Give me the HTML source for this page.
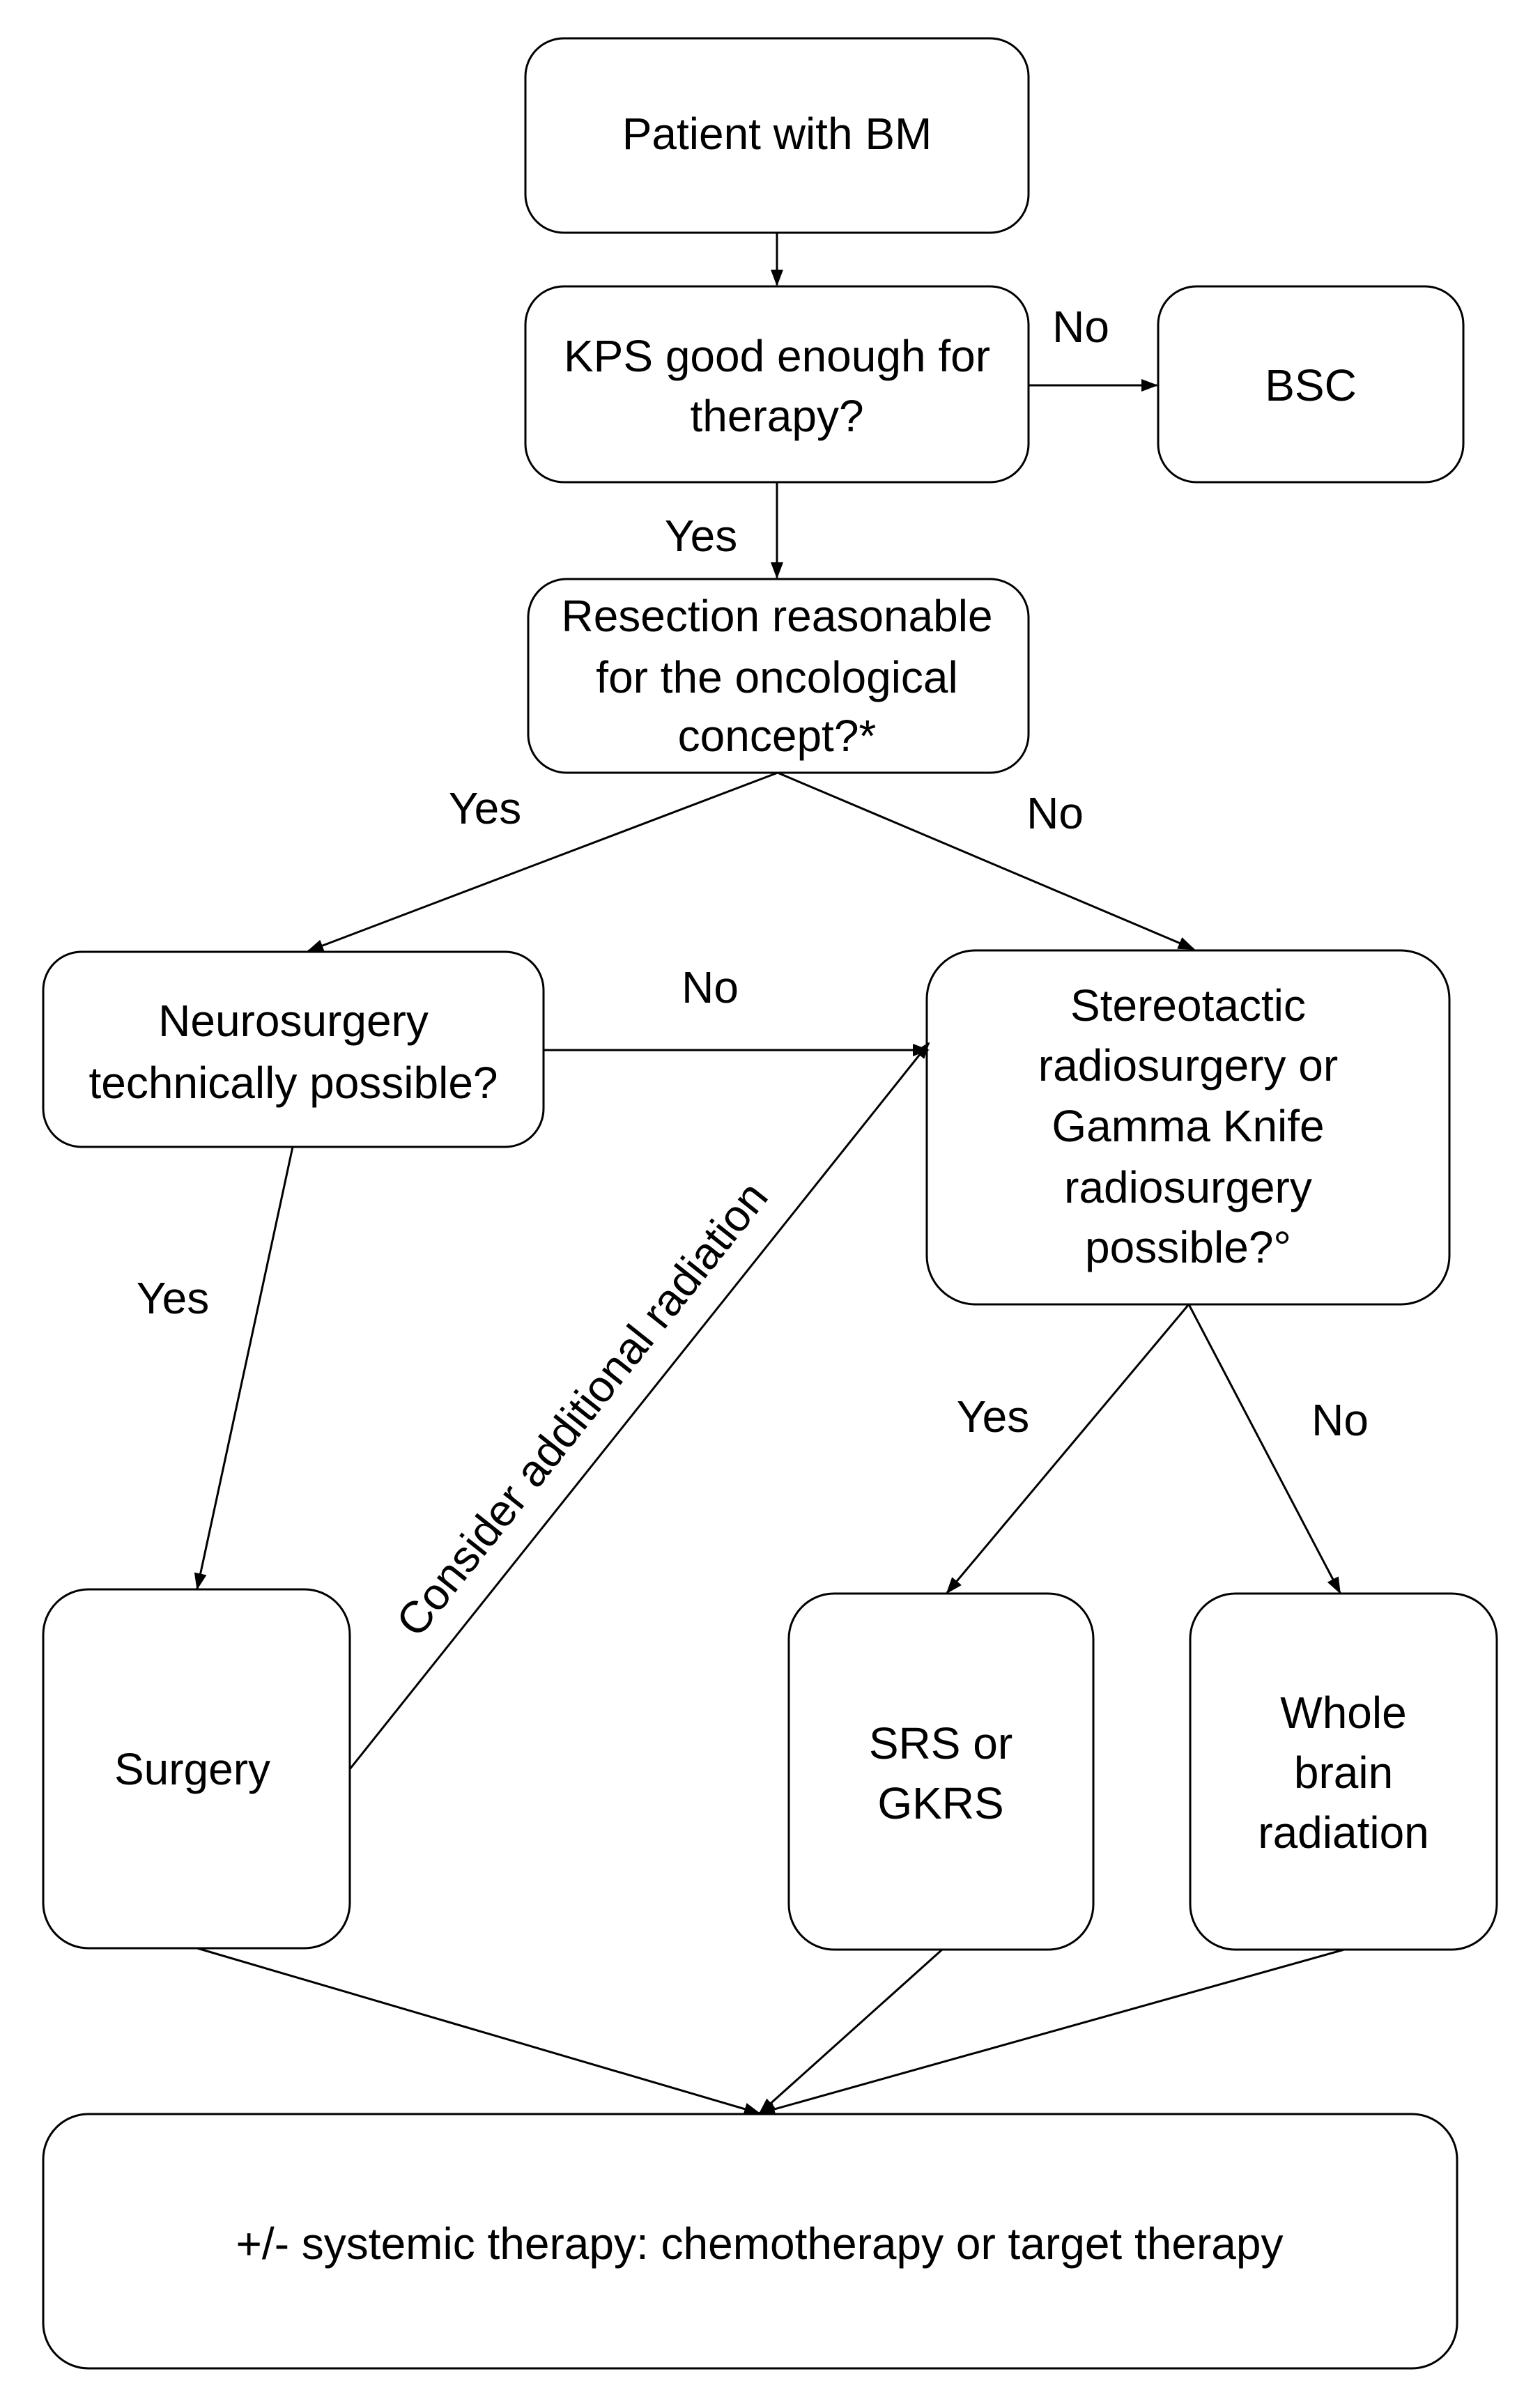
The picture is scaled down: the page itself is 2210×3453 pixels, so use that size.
<!DOCTYPE html>
<html><head><meta charset="utf-8"><style>
html,body{margin:0;padding:0;background:#fff;}
svg{display:block;}
text{font-family:"Liberation Sans",sans-serif;font-size:64px;fill:#000;text-anchor:middle;dominant-baseline:central;}
rect{fill:#fff;stroke:#000;stroke-width:3;}
line{stroke:#000;stroke-width:3;}
</style></head><body>
<svg width="2210" height="3453" viewBox="0 0 2210 3453" xmlns="http://www.w3.org/2000/svg">
<defs>
<marker id="b" markerWidth="24" markerHeight="24" refX="22" refY="12" orient="auto" markerUnits="userSpaceOnUse" viewBox="0 0 24 24"><path d="M0,3 L24,12 L0,21 z" fill="#000"/></marker></defs>

<rect x="754" y="55" width="722" height="279" rx="55"/>
<text x="1115" y="192">Patient with BM</text>

<rect x="754" y="411" width="722" height="281" rx="55"/>
<text x="1115" y="511">KPS good enough for</text>
<text x="1115" y="597">therapy?</text>

<rect x="1662" y="411" width="438" height="281" rx="55"/>
<text x="1881" y="553">BSC</text>

<rect x="758" y="831" width="718" height="278" rx="55"/>
<text x="1115" y="884">Resection reasonable</text>
<text x="1115" y="972">for the oncological</text>
<text x="1115" y="1056">concept?*</text>

<rect x="62" y="1366" width="718" height="280" rx="55"/>
<text x="421" y="1465">Neurosurgery</text>
<text x="421" y="1554">technically possible?</text>

<rect x="1330" y="1364" width="750" height="508" rx="70"/>
<text x="1705" y="1443">Stereotactic</text>
<text x="1705" y="1529">radiosurgery or</text>
<text x="1705" y="1616">Gamma Knife</text>
<text x="1705" y="1704">radiosurgery</text>
<text x="1705" y="1790">possible?°</text>

<rect x="62" y="2281" width="440" height="515" rx="65"/>
<text x="276" y="2539">Surgery</text>

<rect x="1132" y="2287" width="437" height="511" rx="65"/>
<text x="1350" y="2502">SRS or</text>
<text x="1350" y="2588">GKRS</text>

<rect x="1708" y="2287" width="440" height="511" rx="65"/>
<text x="1928" y="2458">Whole</text>
<text x="1928" y="2544">brain</text>
<text x="1928" y="2630">radiation</text>

<rect x="62" y="3034" width="2029" height="365" rx="65"/>
<text x="1090" y="3220">+/- systemic therapy: chemotherapy or target therapy</text>

<line x1="1115" y1="334" x2="1115" y2="409" marker-end="url(#b)"/>
<line x1="1476" y1="553" x2="1660" y2="553" marker-end="url(#b)"/>
<line x1="1115" y1="692" x2="1115" y2="829" marker-end="url(#b)"/>
<line x1="1116" y1="1109" x2="442" y2="1365" marker-end="url(#b)"/>
<line x1="1116" y1="1109" x2="1713" y2="1362" marker-end="url(#b)"/>
<line x1="780" y1="1507" x2="1332" y2="1507" marker-end="url(#b)"/>
<line x1="420" y1="1646" x2="283" y2="2280" marker-end="url(#b)"/>
<line x1="502" y1="2539" x2="1333" y2="1497" marker-end="url(#b)"/>
<line x1="1706" y1="1872" x2="1359" y2="2286" marker-end="url(#b)"/>
<line x1="1706" y1="1872" x2="1923" y2="2286" marker-end="url(#b)"/>
<line x1="283" y1="2796" x2="1090" y2="3033" marker-end="url(#b)"/>
<line x1="1352" y1="2798" x2="1090" y2="3033" marker-end="url(#b)"/>
<line x1="1929" y1="2798" x2="1090" y2="3033" marker-end="url(#b)"/>

<text x="1551" y="469">No</text>
<text x="1006" y="769">Yes</text>
<text x="696" y="1160">Yes</text>
<text x="1514" y="1167">No</text>
<text x="1019" y="1417">No</text>
<text x="248" y="1863">Yes</text>
<text x="1425" y="2033">Yes</text>
<text x="1923" y="2038">No</text>
<text x="835" y="2022" transform="rotate(-51.5 835 2022)">Consider additional radiation</text>
</svg>
</body></html>
